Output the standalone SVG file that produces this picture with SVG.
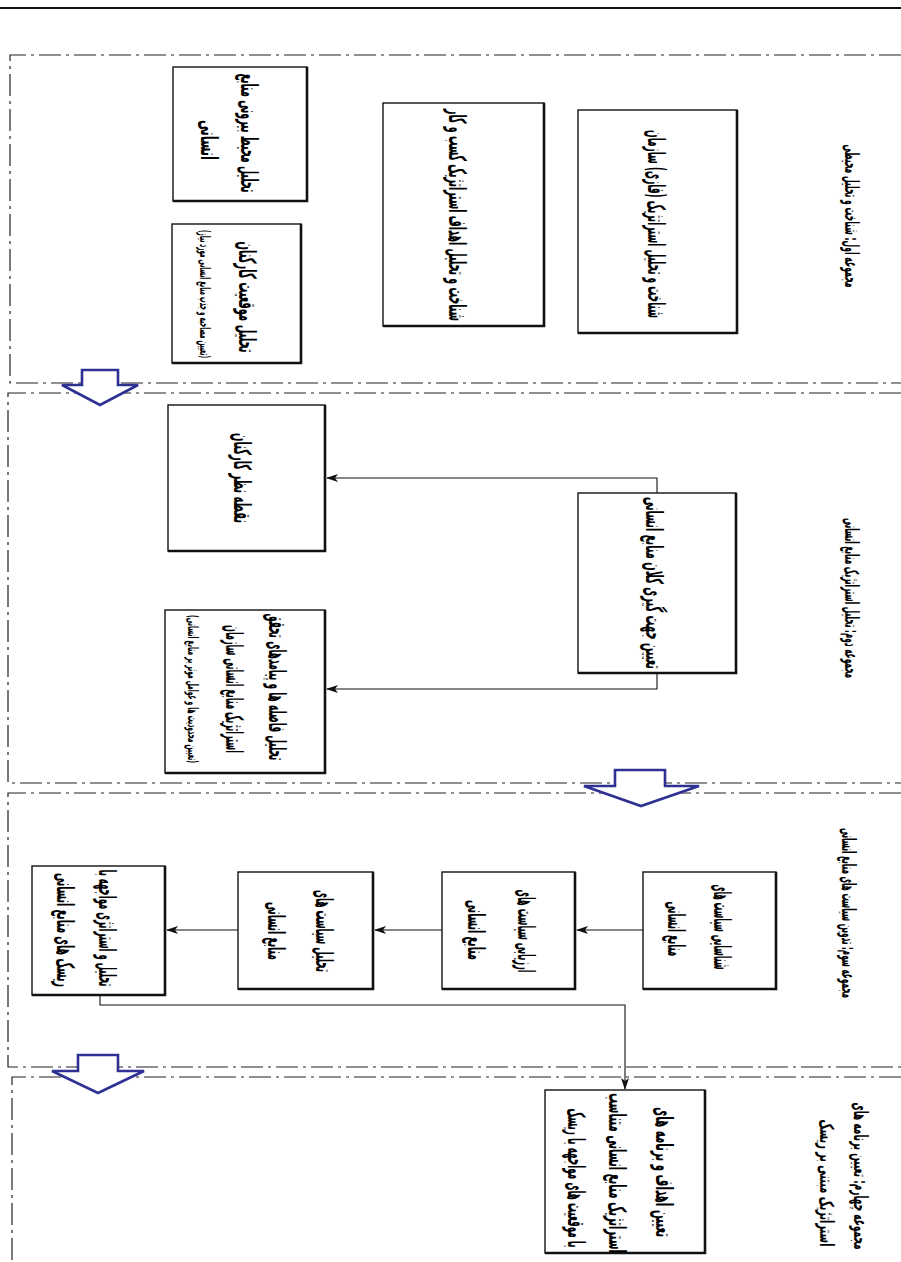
<svg xmlns="http://www.w3.org/2000/svg" width="901" height="1262" viewBox="0 0 901 1262">
<style>
.bg{fill:#ffffff}
.sep{fill:none;stroke:#222;stroke-width:1.2;stroke-dasharray:22 5 3 5}
.box{fill:#ffffff;stroke:#111;stroke-width:1.4}
.sh{fill:none;stroke:#111;stroke-width:2.6}
.blk{fill:#ffffff;stroke:#2e3192;stroke-width:2.6;stroke-linejoin:miter}
.con{fill:none;stroke:#111;stroke-width:1.1}
text{font-family:"DejaVu Sans",sans-serif;font-weight:bold;fill:#000;text-anchor:middle;dominant-baseline:central}
.t{font-size:8px}
.s{font-size:6px}
.lab{font-size:7px}
</style>
<defs>
<marker id="ah" markerWidth="12" markerHeight="8" refX="11" refY="4" orient="auto" markerUnits="userSpaceOnUse">
<path d="M0,0 L12,4 L0,8 L3,4 Z" fill="#111"/>
</marker>
</defs>
<rect class="bg" x="0" y="0" width="901" height="1262"/>
<g id="frame">
<line x1="0" y1="8" x2="901" y2="8" stroke="#111" stroke-width="2"/>
<path class="sep" d="M901,55 H10 V383 H901"/>
<path class="sep" d="M901,393 H8 V783 H901"/>
<path class="sep" d="M901,793 H8 V1067 H901"/>
<path class="sep" d="M901,1077 H12 V1262"/>
</g>
<g id="phase-arrows">
<path class="blk" d="M82,370 H118 V385 H138 L100,405 L62,385 H82 Z"/>
<path class="blk" d="M615,770 H665 V786 H699 L641,806 L584,786 H615 Z"/>
<path class="blk" d="M78,1055 H118 V1071 H144 L98,1093 L52,1071 H78 Z"/>
</g>
<g id="connectors">
<path class="con" d="M657,493 V478 H327" marker-end="url(#ah)"/>
<path class="con" d="M657,673 V689 H327" marker-end="url(#ah)"/>
<path class="con" d="M643,930 H577" marker-end="url(#ah)"/>
<path class="con" d="M442,930 H375" marker-end="url(#ah)"/>
<path class="con" d="M238,930 H167" marker-end="url(#ah)"/>
<path class="con" d="M100,995 V1005 H625 V1089" marker-end="url(#ah)"/>
</g>
<g id="label1"><text class="lab" transform="translate(852,216) rotate(90) scale(1,2.8)" textLength="143" lengthAdjust="spacingAndGlyphs">مجموعه اول: شناخت و تحلیل محیطی</text></g>
<g id="nodeA">
<rect class="box" x="578" y="110" width="159" height="223"/><path class="sh" d="M737,110 V333 H578"/>
<text class="t" transform="translate(657,224) rotate(90) scale(1,3)" textLength="188" lengthAdjust="spacingAndGlyphs">شناخت و تحلیل استراتژیک (فازی) سازمان</text>
</g>
<g id="nodeB">
<rect class="box" x="383" y="103" width="161" height="223"/><path class="sh" d="M544,103 V326 H383"/>
<text class="t" transform="translate(458,215) rotate(90) scale(1,3)" textLength="212" lengthAdjust="spacingAndGlyphs">شناخت و تحلیل اهداف استراتژیک کسب و کار</text>
</g>
<g id="nodeC">
<rect class="box" x="173" y="67" width="134" height="134"/><path class="sh" d="M307,67 V201 H173"/>
<text class="t" transform="translate(250,133) rotate(90) scale(1,3)" textLength="119" lengthAdjust="spacingAndGlyphs">تحلیل محیط بیرونی منابع</text>
<text class="t" transform="translate(210,140) rotate(90) scale(1,3)" textLength="40" lengthAdjust="spacingAndGlyphs">انسانی</text>
</g>
<g id="nodeD">
<rect class="box" x="172" y="224" width="129" height="139"/><path class="sh" d="M301,224 V363 H172"/>
<text class="t" transform="translate(248,297) rotate(90) scale(1,3)" textLength="111" lengthAdjust="spacingAndGlyphs">تحلیل موقعیت کارکنان</text>
<text class="s" transform="translate(205,294) rotate(90) scale(1,2.4)" textLength="128" lengthAdjust="spacingAndGlyphs">(تعیین مصاحبه و جذب منابع انسانی مورد نیاز)</text>
</g>
<g id="label2"><text class="lab" transform="translate(852,598) rotate(90) scale(1,2.8)" textLength="160" lengthAdjust="spacingAndGlyphs">مجموعه دوم: تحلیل استراتژیک منابع انسانی</text></g>
<g id="nodeE">
<rect class="box" x="578" y="493" width="158" height="180"/><path class="sh" d="M736,493 V673 H578"/>
<text class="t" transform="translate(655,583) rotate(90) scale(1,3)" textLength="172" lengthAdjust="spacingAndGlyphs">تعیین جهت گیری کلان منابع انسانی</text>
</g>
<g id="nodeF">
<rect class="box" x="168" y="405" width="157" height="146"/><path class="sh" d="M325,405 V551 H168"/>
<text class="t" transform="translate(243,478) rotate(90) scale(1,3)" textLength="90" lengthAdjust="spacingAndGlyphs">نقطه نظر کارکنان</text>
</g>
<g id="nodeG">
<rect class="box" x="165" y="610" width="160" height="163"/><path class="sh" d="M325,610 V773 H165"/>
<text class="t" transform="translate(278,687) rotate(90) scale(1,3)" textLength="147" lengthAdjust="spacingAndGlyphs">تحلیل فاصله ها و پیامدهای تحقق</text>
<text class="t" transform="translate(235,689) rotate(90) scale(1,3)" textLength="128" lengthAdjust="spacingAndGlyphs">استراتژیک منابع انسانی سازمان</text>
<text class="s" transform="translate(193,689) rotate(90) scale(1,2.4)" textLength="148" lengthAdjust="spacingAndGlyphs">(تعیین محدودیت ها و عوامل موثر بر منابع انسانی)</text>
</g>
<g id="label3"><text class="lab" transform="translate(849,913) rotate(90) scale(1,2.8)" textLength="170" lengthAdjust="spacingAndGlyphs">مجموعه سوم: تدوین سیاست های منابع انسانی</text></g>
<g id="nodeH">
<rect class="box" x="643" y="872" width="133" height="117"/><path class="sh" d="M776,872 V989 H643"/>
<text class="t" transform="translate(723,927) rotate(90) scale(1,3)" textLength="85" lengthAdjust="spacingAndGlyphs">شناسایی سیاست های</text>
<text class="t" transform="translate(677,929) rotate(90) scale(1,3)" textLength="55" lengthAdjust="spacingAndGlyphs">منابع انسانی</text>
</g>
<g id="nodeI">
<rect class="box" x="442" y="872" width="133" height="117"/><path class="sh" d="M575,872 V989 H442"/>
<text class="t" transform="translate(527,931) rotate(90) scale(1,3)" textLength="83" lengthAdjust="spacingAndGlyphs">ارزیابی سیاست های</text>
<text class="t" transform="translate(477,930) rotate(90) scale(1,3)" textLength="60" lengthAdjust="spacingAndGlyphs">منابع انسانی</text>
</g>
<g id="nodeJ">
<rect class="box" x="238" y="872" width="135" height="117"/><path class="sh" d="M373,872 V989 H238"/>
<text class="t" transform="translate(325,931) rotate(90) scale(1,3)" textLength="82" lengthAdjust="spacingAndGlyphs">تحلیل سیاست های</text>
<text class="t" transform="translate(277,931) rotate(90) scale(1,3)" textLength="58" lengthAdjust="spacingAndGlyphs">منابع انسانی</text>
</g>
<g id="nodeK">
<rect class="box" x="32" y="866" width="133" height="129"/><path class="sh" d="M165,866 V995 H32"/>
<text class="t" transform="translate(108,928) rotate(90) scale(1,3)" textLength="117" lengthAdjust="spacingAndGlyphs">تحلیل و استراتژی مواجهه با</text>
<text class="t" transform="translate(66,930) rotate(90) scale(1,3)" textLength="114" lengthAdjust="spacingAndGlyphs">ریسک های منابع انسانی</text>
</g>
<g id="label4">
<text class="lab" transform="translate(861,1176) rotate(90) scale(1,2.8)" textLength="147" lengthAdjust="spacingAndGlyphs">مجموعه چهارم: تعیین برنامه های</text>
<text class="lab" transform="translate(827,1183) rotate(90) scale(1,2.8)" textLength="127" lengthAdjust="spacingAndGlyphs">استراتژیک مبتنی بر ریسک</text>
</g>
<g id="nodeL">
<rect class="box" x="545" y="1090" width="160" height="163"/><path class="sh" d="M705,1090 V1253 H545"/>
<text class="t" transform="translate(665,1172) rotate(90) scale(1,3)" textLength="130" lengthAdjust="spacingAndGlyphs">تعیین اهداف و برنامه های</text>
<text class="t" transform="translate(618,1173) rotate(90) scale(1,3)" textLength="160" lengthAdjust="spacingAndGlyphs">استراتژیک منابع انسانی متناسب</text>
<text class="t" transform="translate(577,1178) rotate(90) scale(1,3)" textLength="139" lengthAdjust="spacingAndGlyphs">با موقعیت های مواجهه با ریسک</text>
</g>
</svg>
